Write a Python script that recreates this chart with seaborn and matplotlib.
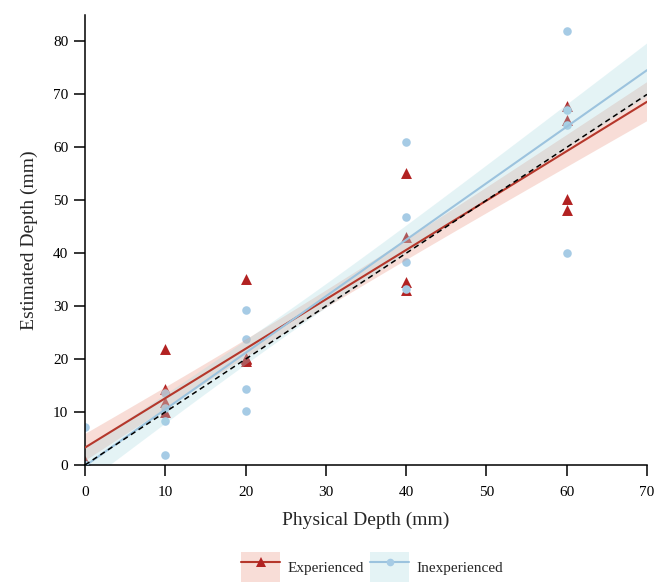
import numpy as np
import pandas as pd
import matplotlib
matplotlib.use("Agg")
import matplotlib.pyplot as plt
import seaborn as sns
from matplotlib.patches import Patch
from matplotlib.lines import Line2D

# ---- data -------------------------------------------------------------
depth = [0, 0, 0, 0, 10, 10, 10, 10, 20, 20, 20, 20,
         40, 40, 40, 40, 60, 60, 60, 60]
experienced = [0.0, 0.0, 0.0, 0.8,
               22.0, 14.3, 11.9, 10.0,
               35.1, 20.3, 20.0, 19.7,
               55.1, 43.0, 34.5, 33.0,
               67.9, 65.1, 50.2, 48.1]
inexperienced = [7.2, 0.0, 0.0, 0.0,
                 13.6, 10.8, 8.3, 1.9,
                 29.2, 23.8, 14.3, 10.2,
                 61.1, 46.8, 38.3, 33.2,
                 81.9, 67.0, 64.2, 40.0]
groups = ["Experienced", "Inexperienced"]
identity_x = [0, 70]
x_ticks = [0, 10, 20, 30, 40, 50, 60, 70]
y_ticks = [0, 10, 20, 30, 40, 50, 60, 70, 80]

df = pd.DataFrame({
    "depth": depth * 2,
    "estimate": experienced + inexperienced,
    "group": [groups[0]] * len(depth) + [groups[1]] * len(depth),
})

# ---- style ------------------------------------------------------------
sns.set_style("ticks")
plt.rcParams["font.family"] = ["Liberation Serif", "DejaVu Serif"]
plt.rcParams["axes.linewidth"] = 1.1

style = {
    "Experienced": dict(marker="^", s=62, point="#B22222",
                        line="#B5372B", fill="#E8917D"),
    "Inexperienced": dict(marker="o", s=38, point="#A6CBE5",
                          line="#9CC3DE", fill="#A8DAE1"),
}
fill_alpha = 0.3


def se_band(x, y, grid):
    """Least-squares fit with a +/- one standard-error band."""
    x = np.asarray(x, float)
    y = np.asarray(y, float)
    n = len(x)
    slope, icpt = np.polyfit(x, y, 1)
    resid = y - (icpt + slope * x)
    s = np.sqrt(np.sum(resid ** 2) / (n - 2))
    sxx = np.sum((x - x.mean()) ** 2)
    fit = icpt + slope * grid
    se = s * np.sqrt(1 / n + (grid - x.mean()) ** 2 / sxx)
    return fit - se, fit + se


fig = plt.figure(figsize=(6.65, 5.84), dpi=100)
ax = fig.add_axes([85 / 665, 1 - 465 / 584, (647 - 85) / 665, (465 - 15) / 584])
ax.set_xlim(0, 70)
ax.set_ylim(0, 85)

# points first so the ribbons tint them
for g in groups:
    st = style[g]
    sns.scatterplot(data=df[df.group == g], x="depth", y="estimate",
                    marker=st["marker"], s=st["s"], color=st["point"],
                    linewidth=0, ax=ax, legend=False, zorder=1)

# ribbons, then fitted lines
grid = np.linspace(0, 70, 200)
for g in groups:
    sub = df[df.group == g]
    lo, hi = se_band(sub.depth, sub.estimate, grid)
    ax.fill_between(grid, lo, hi, facecolor=style[g]["fill"],
                    alpha=fill_alpha, edgecolor="none", zorder=1.5)
for g in groups:
    st = style[g]
    sns.regplot(data=df[df.group == g], x="depth", y="estimate",
                scatter=False, truncate=False, ci=None,
                color=st["line"], line_kws=dict(lw=1.5, zorder=3), ax=ax)

# identity reference line
ax.plot(identity_x, identity_x, color="black", lw=1.1, ls=(0, (3.5, 2.5)), zorder=4)

ax.set_xticks(x_ticks)
ax.set_yticks(y_ticks)
ax.tick_params(axis="both", length=8, width=1.1, labelsize=11,
               color="black", labelcolor="black")
ax.tick_params(axis="x", pad=7)
ax.tick_params(axis="y", pad=4)
ax.set_xlabel("Physical Depth (mm)", fontsize=14, labelpad=9)
ax.set_ylabel("Estimated Depth (mm)", fontsize=14, labelpad=11)
sns.despine(ax=ax)
ax.spines["left"].set_color("black")
ax.spines["bottom"].set_color("black")

handles = []
for g in groups:
    st = style[g]
    handles.append((
        Patch(facecolor=st["fill"], alpha=fill_alpha, edgecolor="none"),
        Line2D([], [], color=st["line"], lw=1.5, marker=st["marker"],
               markersize=7.5 if st["marker"] == "^" else 5.5,
               markerfacecolor=st["point"], markeredgewidth=0),
    ))
fig.legend(handles, groups, loc="lower center", bbox_to_anchor=(372 / 665, -0.012),
           ncol=2, frameon=False, fontsize=11, numpoints=1,
           handlelength=2.55, handleheight=2.6, handletextpad=0.45,
           columnspacing=0.45, borderpad=0.1)

fig.savefig("out.png", dpi=100)
